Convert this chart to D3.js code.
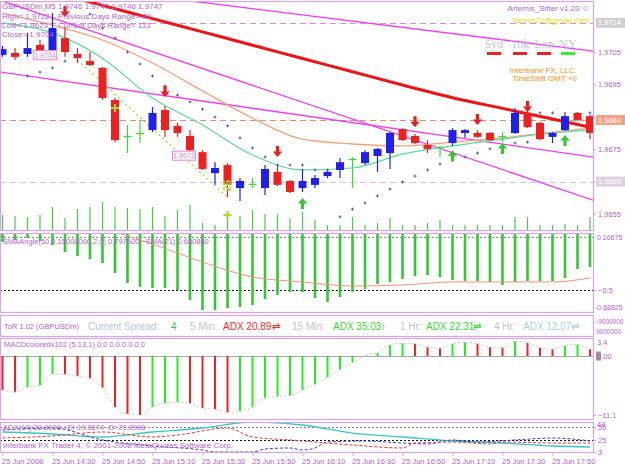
<!DOCTYPE html>
<html>
<head>
<meta charset="utf-8">
<script src="https://cdn.jsdelivr.net/npm/d3@7/dist/d3.min.js"></script>
<style>
body {margin:0; background:#ffffff;}
svg {display:block; font-family:"Liberation Sans", Arial, sans-serif;}
</style>
</head>
<body>
<svg id="chart"></svg>
<script>
// GBPUSDm M5 bars, 14:10 .. 18:05
var opens = [1.97041,1.97047,1.97044,1.97072,1.97056,1.97093,1.97044,1.97022,1.97001,1.96902,
 1.96791,1.96800,1.96809,1.96871,1.96822,1.96791,1.96741,1.96676,1.96701,1.96630,
 1.96643,1.96630,1.96680,1.96652,1.96630,1.96640,1.96667,1.96686,1.96720,1.96707,
 1.96729,1.96738,1.96812,1.96791,1.96763,1.96757,1.96769,1.96800,1.96800,1.96800,
 1.96791,1.96800,1.96862,1.96831,1.96788,1.96809,1.96862,1.96852]
var highs = [1.97069,1.97062,1.97109,1.97087,1.97170,1.97127,1.97062,1.97050,1.97004,1.96908,
 1.96825,1.96840,1.96880,1.96883,1.96831,1.96809,1.96747,1.96710,1.96707,1.96661,
 1.96661,1.96701,1.96701,1.96655,1.96689,1.96670,1.96686,1.96723,1.96726,1.96747,
 1.96754,1.96803,1.96815,1.96797,1.96778,1.96760,1.96815,1.96812,1.96809,1.96803,
 1.96803,1.96877,1.96871,1.96834,1.96803,1.96865,1.96865,1.96856]
var lows = [1.97035,1.97025,1.97035,1.97035,1.97047,1.97035,1.97016,1.97007,1.96902,1.96772,
 1.96738,1.96769,1.96803,1.96788,1.96788,1.96723,1.96686,1.96640,1.96602,1.96590,
 1.96630,1.96609,1.96636,1.96615,1.96618,1.96630,1.96661,1.96661,1.96630,1.96701,
 1.96680,1.96689,1.96775,1.96766,1.96738,1.96726,1.96760,1.96785,1.96785,1.96775,
 1.96772,1.96797,1.96815,1.96778,1.96769,1.96806,1.96837,1.96781]
var closes = [1.97059,1.97035,1.97062,1.97044,1.97124,1.97050,1.97031,1.97010,1.96908,1.96778,
 1.96791,1.96800,1.96862,1.96809,1.96800,1.96747,1.96689,1.96692,1.96640,1.96652,
 1.96643,1.96689,1.96640,1.96618,1.96652,1.96661,1.96680,1.96710,1.96720,1.96741,
 1.96751,1.96800,1.96778,1.96769,1.96751,1.96757,1.96809,1.96809,1.96788,1.96778,
 1.96791,1.96862,1.96818,1.96781,1.96800,1.96852,1.96840,1.96800]
var volumes = [60,56,52,60,92,48,84,92,112,92,88,84,92,56,80,100,28,20,64,56,
 80,64,64,48,72,40,20,20,52,20,28,48,20,20,28,40,20,20,20,20,20,52,52,20,20,24,20,52]
var sarValues = [null,null,1.96976,1.96988,1.97001,1.97022,1.97035,1.97167,1.97124,1.97093,
 1.97050,1.97013,1.96976,1.96945,1.96917,1.96896,1.96874,1.96849,1.96822,1.96785,
 1.96754,1.96726,1.96701,1.96701,1.96701,1.96686,1.96686,1.96541,1.96565,1.96584,
 1.96606,1.96627,1.96649,1.96667,1.96686,1.96704,1.96717,1.96726,1.96738,1.96751,
 1.96760,1.96769,1.96772,1.96862,1.96862,null,null,1.96862]

var maBars = [0,4,8,12,16,20,24,28,32,36,40,44,47]
var slowMa = [1.97275,1.97235,1.97194,1.97153,1.97112,1.97071,1.97030,1.96989,1.96948,1.96909,1.96876,1.96843,1.96818]
var midMa = [1.97170,1.97133,1.97087,1.97016,1.96930,1.96846,1.96781,1.96766,1.96760,1.96772,1.96785,1.96803,1.96815]
var fastMa = [1.97140,1.97109,1.97031,1.96908,1.96825,1.96732,1.96686,1.96692,1.96735,1.96760,1.96781,1.96800,1.96809]

var trendFromBar = [16,0,0]
var trendFromPrice = [1.97203,1.97207,1.96987]
var trendToBar = [47,47,47]
var trendToPrice = [1.97054,1.96596,1.96727]

var downArrowBars = [5,13,22,33,38,42]
var downArrowPrices = [1.97158,1.96911,1.96726,1.96818,1.96825,1.96865]
var upArrowBars = [24,36,40,45]
var upArrowPrices = [1.96599,1.96747,1.96769,1.96794]
var zigzagBars = [6,18]
var zigzagPrices = [1.97025,1.96602]
var crossBars = [9,18]
var crossPrices = [1.96877,1.96547]

var priceTicks = [1.9705,1.9695,1.9685,1.9675,1.9665,1.9655]
var levelPrices = [1.9714,1.9684,1.9665]
var tagBars = [2.5,13.6]
var tagPrices = [1.9704,1.9673]

var smaAngle = [0.069,0.091,0.113,0.080,0.037,-0.039,-0.082,-0.115,-0.158,-0.266,
 -0.374,-0.418,-0.429,-0.429,-0.450,-0.558,-0.667,-0.667,-0.645,-0.634,
 -0.613,-0.548,-0.504,-0.472,-0.472,-0.537,-0.580,-0.526,-0.472,-0.439,
 -0.385,-0.364,-0.331,-0.299,-0.288,-0.310,-0.342,-0.353,-0.353,-0.364,
 -0.396,-0.364,-0.353,-0.353,-0.353,-0.320,-0.223,-0.201]
var smaSignalBars = [9,12,16,20,24,28,32,36,40,44,47]
var smaSignal = [0.178,0.048,-0.147,-0.309,-0.363,-0.407,-0.396,-0.363,-0.363,-0.363,-0.320]
var smaLevels = [0.12,-0.45]

var macdValues = [-6.4,-6.8,-5.9,-5.5,-3.4,-3.45,-3.8,-4.2,-6.0,-9.6,
 -10.9,-11.1,-9.6,-8.9,-8.7,-8.9,-9.8,-10.0,-10.6,-10.4,
 -9.6,-7.9,-7.6,-7.4,-6.4,-5.3,-4.0,-2.5,-1.2,0.05,
 0.6,2.1,2.4,2.3,1.7,1.5,2.3,2.6,2.3,1.7,
 1.6,2.8,2.5,1.6,1.3,1.9,2.2,1.3]

var adxBars = [0,4,8,12,16,20,24,28,32,36,40,44,47]
var adxValues = [40.4,36.7,31.1,40.4,47.9,59.1,53.5,38.5,31.1,23.6,19.8,14.2,12.4]
var minusDiBars = [0,4,8,12,14,18,20,23,28,32,33,36,39,40,44,47]
var minusDiValues = [29.2,32.9,40.4,31.1,34.8,47.9,31.1,25.5,16.1,10.5,19.8,21.7,18.0,21.7,19.8,19.8]
var plusDiBars = [0,4,8,12,16,17,20,21,23,24,25,26,29,32,34,36,38,41,44,47]
var plusDiValues = [44.2,47.9,25.5,14.2,6.7,3,3,8.6,10.5,6.7,10.5,21.7,23.6,19.8,18.0,25.5,21.7,25.5,29.2,23.6]
var adxLevels = [50,25]

var timeTickBars = [0,4,8,12,16,20,24,28,32,36,40,44]
var timeTickLabels = ["25 Jun 2008","25 Jun 14:30","25 Jun 14:50","25 Jun 15:10","25 Jun 15:30","25 Jun 15:50",
 "25 Jun 16:10","25 Jun 16:30","25 Jun 16:50","25 Jun 17:10","25 Jun 17:30","25 Jun 17:50"]

var screen = {width:625, height:469}
var plot = {left:0, right:593}
var panels = {
    main:{top:1, bottom:230},
    sma:{top:233, bottom:312},
    tor:{top:315, bottom:336},
    macd:{top:338, bottom:419},
    adx:{top:422, bottom:452}
}
var frameColor = "#d8a6e6"
var textColor = "#b45fd2"

var svg = d3.select("#chart")
    .attr("width", screen.width)
    .attr("height", screen.height)

var x = d3.scaleLinear().domain([0,47]).range([2.5,590])
var yPrice = d3.scaleLinear().domain([1.9655,1.9705]).range([214,52])
var yVol = d3.scaleLinear().domain([0,120]).range([230,200])
var ySma = d3.scaleLinear().domain([0.16675,-0.68825]).range([233,312])
var yMacd = d3.scaleLinear().domain([3.4,-11.86]).range([338,419])
var yAdx = d3.scaleLinear().domain([3,61]).range([452,421])

var defs = svg.append("defs")
Object.keys(panels).forEach(function(k){
    defs.append("clipPath").attr("id","clip-"+k)
        .append("rect")
        .attr("x",1).attr("y",panels[k].top+1)
        .attr("width",plot.right-1).attr("height",panels[k].bottom-panels[k].top-1)
})

var panelGroup = function(k){
    return svg.append("g").attr("clip-path","url(#clip-"+k+")")
}

var addText = function(g, str, px, py, size, color, anchor, family){
    return g.append("text")
        .text(str)
        .attr("x",px).attr("y",py)
        .attr("font-size",size)
        .attr("fill",color)
        .attr("text-anchor",anchor || "start")
        .attr("dominant-baseline","central")
        .attr("font-family",family || null)
}

// ---------- main panel
var drawMain = function(){
    var g = panelGroup("main")

    var levelColors = ["#dd8be8","#f08a6c","#e6b8ec"]
    g.selectAll("line.level").data(levelPrices).enter().append("line")
        .attr("x1",0).attr("x2",plot.right)
        .attr("y1",function(d){return Math.round(yPrice(d))+0.5})
        .attr("y2",function(d){return Math.round(yPrice(d))+0.5})
        .attr("stroke",function(d,i){return levelColors[i]})
        .attr("stroke-dasharray","6,4")

    g.selectAll("line.trend").data(trendFromBar).enter().append("line")
        .each(function(d,i){
            var slope = (trendToPrice[i]-trendFromPrice[i])/(trendToBar[i]-trendFromBar[i])
            var b0 = -1, b1 = 48
            d3.select(this)
                .attr("x1",x(b0)).attr("y1",yPrice(trendFromPrice[i]+slope*(b0-trendFromBar[i])))
                .attr("x2",x(b1)).attr("y2",yPrice(trendFromPrice[i]+slope*(b1-trendFromBar[i])))
        })
        .attr("stroke","#f03cf0")
        .attr("stroke-width",1.3)

    g.selectAll("line.vol").data(volumes).enter().append("line")
        .attr("x1",function(d,i){return x(i)}).attr("x2",function(d,i){return x(i)})
        .attr("y1",yVol(0)).attr("y2",function(d){return yVol(d)})
        .attr("stroke","#44d044").attr("stroke-width",1.2)

    var maLine = d3.line()
        .x(function(d,i){return x(maBars[i])})
        .y(function(d){return yPrice(d)})
        .curve(d3.curveMonotoneX)
    g.append("path").datum(midMa).attr("d",maLine)
        .attr("fill","none").attr("stroke","#f4a27a").attr("stroke-width",1.3)
    g.append("path").datum(fastMa).attr("d",maLine)
        .attr("fill","none").attr("stroke","#5cd89c").attr("stroke-width",1.2)
    g.append("path").datum(slowMa).attr("d",maLine)
        .attr("fill","none").attr("stroke","#ee1414").attr("stroke-width",3)

    var zz = d3.line().x(function(d,i){return x(zigzagBars[i])}).y(function(d){return yPrice(d)})
    g.append("path").datum(zigzagPrices).attr("d",zz)
        .attr("fill","none").attr("stroke","#a8d838").attr("stroke-width",1.3)
        .attr("stroke-dasharray","2,3")

    var bars = opens.map(function(o,i){return {i:i,o:o,h:highs[i],l:lows[i],c:closes[i]}})
    var candleColor = function(d){
        if (d.c>d.o) return "#2020ee"
        if (d.c<d.o) return "#ee2020"
        return "#33dd33"
    }
    var candle = g.selectAll("g.candle").data(bars).enter().append("g").attr("class","candle")
    candle.append("line")
        .attr("x1",function(d){return x(d.i)}).attr("x2",function(d){return x(d.i)})
        .attr("y1",function(d){return yPrice(d.h)}).attr("y2",function(d){return yPrice(d.l)})
        .attr("stroke",candleColor).attr("stroke-width",1.2)
    candle.append("rect")
        .attr("x",function(d){return x(d.i)-4}).attr("width",8)
        .attr("y",function(d){return yPrice(Math.max(d.o,d.c))})
        .attr("height",function(d){return Math.max(1.2,yPrice(Math.min(d.o,d.c))-yPrice(Math.max(d.o,d.c)))})
        .attr("fill",candleColor)

    sarValues.forEach(function(d,i){
        if (d===null) return
        g.append("path")
            .attr("transform","translate("+x(i)+","+yPrice(d)+")")
            .attr("d","M-1.5,0H1.5M0,-1.5V1.5")
            .attr("stroke","#5a5aa8").attr("stroke-width",1)
    })

    g.selectAll("path.cross").data(crossPrices).enter().append("path")
        .attr("transform",function(d,i){return "translate("+x(crossBars[i])+","+yPrice(d)+")"})
        .attr("d","M-4,0H4M0,-4V4")
        .attr("stroke","#a6dc30").attr("stroke-width",2)

    g.selectAll("path.down").data(downArrowPrices).enter().append("path")
        .attr("transform",function(d,i){return "translate("+x(downArrowBars[i])+","+yPrice(d)+")"})
        .attr("d","M-1.6,-11H1.6V-5.5H4.6L0,0L-4.6,-5.5H-1.6Z")
        .attr("fill","#ee1c1c")
    g.selectAll("path.up").data(upArrowPrices).enter().append("path")
        .attr("transform",function(d,i){return "translate("+x(upArrowBars[i])+","+yPrice(d)+")"})
        .attr("d","M-1.6,11H1.6V5.5H4.6L0,0L-4.6,5.5H-1.6Z")
        .attr("fill","#33c833")

    var tags = g.selectAll("g.tag").data(tagPrices).enter().append("g")
        .attr("transform",function(d,i){return "translate("+x(tagBars[i])+","+yPrice(d)+")"})
    tags.append("rect").attr("x",0).attr("y",-4.5).attr("width",23).attr("height",9)
        .attr("fill","#ffffff").attr("stroke","#ee80d0")
    tags.append("text").text(function(d){return d.toFixed(4)})
        .attr("x",11.5).attr("y",0).attr("text-anchor","middle").attr("dominant-baseline","central")
        .attr("font-size",7).attr("fill","#ee80d0")

    addText(g,"26",0,0,10,"#a6dc30").attr("font-weight","bold")
        .attr("transform","translate("+x(18)+","+(yPrice(1.96602)-6)+") rotate(-90)")

    var t = svg.append("g")
    addText(t,"GBPUSDm,M5  1.9746 1.9740 1.9746 1.9747",2,6,8,textColor)
    addText(t,"High= 1.9722",2,16,8,textColor)
    addText(t,"Previous Days Range= 99",58,16,8,textColor)
    addText(t,"Low= 1.9623",2,25,8,textColor)
    addText(t,"Current Days Range= 113",58,25,8,textColor)
    addText(t,"Close= 1.9704",2,34,8,textColor)

    addText(t,"Artemis_Sitter v1.20 \u263A",590,8,8,textColor,"end")
    addText(t,"Yannis21@gmail.com",589,20,8,"#e2e200","end")
    var sess = ["Syd","Tok","Lon","NY"]
    var sessX = [494,520,544,568]
    var sessColor = ["#ee2222","#ee2222","#ee2222","#33ee33"]
    sess.forEach(function(s,i){
        addText(t,s,sessX[i],44,12,"#b8c8de","middle","'Liberation Serif', serif")
        t.append("rect").attr("x",sessX[i]-7).attr("y",52).attr("width",14).attr("height",3).attr("fill",sessColor[i])
    })
    addText(t,"Interbank FX, LLC.",577,70,8,"#ff9020","end")
    addText(t,"TimeShift GMT +0",577,78,8,"#ff9020","end")
}

// ---------- SMA angle panel
var drawSma = function(){
    var g = panelGroup("sma")
    g.selectAll("line.lv").data(smaLevels).enter().append("line")
        .attr("x1",0).attr("x2",plot.right)
        .attr("y1",function(d){return Math.round(ySma(d))+0.5}).attr("y2",function(d){return Math.round(ySma(d))+0.5})
        .attr("stroke",function(d,i){return i==0 ? "#888888" : "#111111"})
        .attr("stroke-dasharray","2,2")
    g.selectAll("rect.h").data(smaAngle).enter().append("rect")
        .attr("x",function(d,i){return x(i)-1.3}).attr("width",2.6)
        .attr("y",ySma(0.16675))
        .attr("height",function(d){return ySma(d)-ySma(0.16675)})
        .attr("fill","#33c833")
    var sig = d3.line().x(function(d,i){return x(smaSignalBars[i])}).y(function(d){return ySma(d)}).curve(d3.curveMonotoneX)
    g.append("path").datum(smaSignal).attr("d",sig)
        .attr("fill","none").attr("stroke","#f4927a").attr("stroke-width",1)
    addText(svg,"SMAAngle(50,0.15000000,2,0) 0.797500  ~SMA(21) 0.680880",3,241,7.5,textColor)
}

// ---------- ToR text panel
var drawTor = function(){
    var g = svg.append("g")
    var cy = 326
    addText(g,"ToR 1.02 (GBPUSDm)",4,cy,7.5,textColor)
    var items = [
        ["Current Spread:",88,"#b8c4dc"],["4",171,"#33cc33"],
        ["5 Min:",190,"#c4c4c4"],["ADX 20.89",223,"#ff2a2a"],["\u21C4",272,"#ff2a2a"],
        ["15 Min:",292,"#c4c4c4"],["ADX 35.03",333,"#33dd33"],["\u2191",381,"#33aa33"],
        ["1 Hr:",400,"#c4c4c4"],["ADX 22.31",426,"#33dd33"],["\u21C4",473,"#33dd33"],
        ["4 Hr:",494,"#c4c4c4"],["ADX 12.07",523,"#a8d4e6"],["\u21C4",571,"#a8d4e6"]
    ]
    items.forEach(function(it){ addText(g,it[0],it[1],cy,10,it[2]) })
    addText(g,"-9000000",596,321,6.5,textColor)
    addText(g,"9000000",596,331,6.5,textColor)
}

// ---------- MACD panel
var drawMacd = function(){
    var g = panelGroup("macd")
    g.append("line").attr("x1",0).attr("x2",plot.right)
        .attr("y1",Math.round(yMacd(0))+0.5).attr("y2",Math.round(yMacd(0))+0.5)
        .attr("stroke","#a8a8a8")
    g.selectAll("line.m").data(macdValues).enter().append("line")
        .attr("x1",function(d,i){return x(i)}).attr("x2",function(d,i){return x(i)})
        .attr("y1",yMacd(0)).attr("y2",function(d){return yMacd(d)})
        .attr("stroke",function(d,i){return (i>0 && d>=macdValues[i-1]) ? "#22ee22" : "#ee2222"})
        .attr("stroke-width",2)
    var sig = d3.line().x(function(d,i){return x(i)}).y(function(d){return yMacd(d)}).curve(d3.curveMonotoneX)
    g.append("path").datum(macdValues).attr("d",sig)
        .attr("fill","none").attr("stroke","#c8c8c8").attr("stroke-dasharray","2,2")
    addText(svg,"MACDcoloredv102 (5,13,1) 0.0 0.0 0.0 0.0",4,344,7.5,textColor)
}

// ---------- ADX panel
var drawAdx = function(){
    var g = panelGroup("adx")
    g.selectAll("line.lv").data(adxLevels).enter().append("line")
        .attr("x1",0).attr("x2",plot.right)
        .attr("y1",function(d){return Math.round(yAdx(d))+0.5}).attr("y2",function(d){return Math.round(yAdx(d))+0.5})
        .attr("stroke",function(d,i){return i==0 ? "#888888" : "#111111"})
        .attr("stroke-dasharray","2,2")
    var mk = function(bars){
        return d3.line().x(function(d,i){return x(bars[i])}).y(function(d){return yAdx(d)}).curve(d3.curveMonotoneX)
    }
    g.append("path").datum(adxValues).attr("d",mk(adxBars))
        .attr("fill","none").attr("stroke","#3cc4c4").attr("stroke-width",1.3)
    g.append("path").datum(plusDiValues).attr("d",mk(plusDiBars))
        .attr("fill","none").attr("stroke","#3a3ae0").attr("stroke-dasharray","3,2")
    g.append("path").datum(minusDiValues).attr("d",mk(minusDiBars))
        .attr("fill","none").attr("stroke","#ee3333").attr("stroke-dasharray","3,2")
    addText(svg,"ADX(14) 20.8928 +DI 19.3674 -DI 20.8988",3,427,7.5,textColor)
    addText(svg,"Interbank FX Trader 4, \u00A9 2001-2008 MetaQuotes Software Corp.",3,445,8,textColor)
}

// ---------- frames and axes
var drawFrames = function(){
    Object.keys(panels).forEach(function(k){
        svg.append("rect")
            .attr("x",0.5).attr("y",panels[k].top+0.5)
            .attr("width",plot.right).attr("height",panels[k].bottom-panels[k].top)
            .attr("fill","none").attr("stroke",frameColor).attr("stroke-width",1.2)
    })
}

var styleAxis = function(a){
    a.select(".domain").remove()
    a.selectAll("line").attr("stroke",frameColor)
    a.selectAll("text").attr("fill",textColor).attr("font-size",7.5).attr("font-family",'"Liberation Sans", Arial, sans-serif')
}

var drawAxes = function(){
    var pa = svg.append("g").attr("transform","translate("+plot.right+",0)")
        .call(d3.axisRight(yPrice).tickValues(priceTicks).tickSize(3).tickPadding(2).tickFormat(d3.format(".4f")))
    styleAxis(pa)

    var boxColors = ["#cfcfcf","#f4a286","#dcd0e2"]
    var boxes = svg.selectAll("g.pbox").data(levelPrices).enter().append("g")
        .attr("transform",function(d){return "translate("+(plot.right+3)+","+yPrice(d)+")"})
    boxes.append("rect").attr("x",0).attr("y",-5).attr("width",29).attr("height",10)
        .attr("fill",function(d,i){return boxColors[i]})
    boxes.append("text").text(function(d){return d.toFixed(4)})
        .attr("x",2).attr("y",0).attr("dominant-baseline","central")
        .attr("font-size",7.5).attr("fill","#ffffff")

    var sa = svg.append("g").attr("transform","translate("+plot.right+",0)")
        .call(d3.axisRight(ySma).tickValues([-0.5]).tickSize(3).tickPadding(2).tickFormat(d3.format(".1f")))
    styleAxis(sa)
    sa.select(".tick").attr("transform","translate(0,"+(ySma(smaLevels[1])+0.5)+")")
    addText(svg,"0.16675",597,237,7,textColor)
    addText(svg,"-0.68825",595,307,7,textColor)

    var ma = svg.append("g").attr("transform","translate("+plot.right+",0)")
        .call(d3.axisRight(yMacd).tickValues([-11.1]).tickSize(3).tickPadding(2).tickFormat(d3.format(".1f")))
    styleAxis(ma)
    addText(svg,"3.4",597,342,7.5,textColor)
    svg.append("rect").attr("x",596).attr("y",yMacd(0)-4.5).attr("width",5).attr("height",9).attr("fill","#9a9a9a")
    addText(svg,"0.00",597,yMacd(0),7.5,textColor)

    var aa = svg.append("g").attr("transform","translate("+plot.right+",0)")
        .call(d3.axisRight(yAdx).tickValues([50,25,3]).tickSize(3).tickPadding(2).tickFormat(d3.format("d")))
    styleAxis(aa)
    addText(svg,"48",597,424,7.5,textColor)

    var ta = svg.append("g").attr("transform","translate(0,"+panels.adx.bottom+")")
        .call(d3.axisBottom(x).tickValues(timeTickBars).tickSize(4).tickPadding(3)
            .tickFormat(function(d,i){return timeTickLabels[i]}))
    styleAxis(ta)
    ta.selectAll("text").attr("text-anchor","start").attr("dx",-1)
}

drawFrames()
drawMain()
drawSma()
drawTor()
drawMacd()
drawAdx()
drawAxes()
</script>
</body>
</html>
